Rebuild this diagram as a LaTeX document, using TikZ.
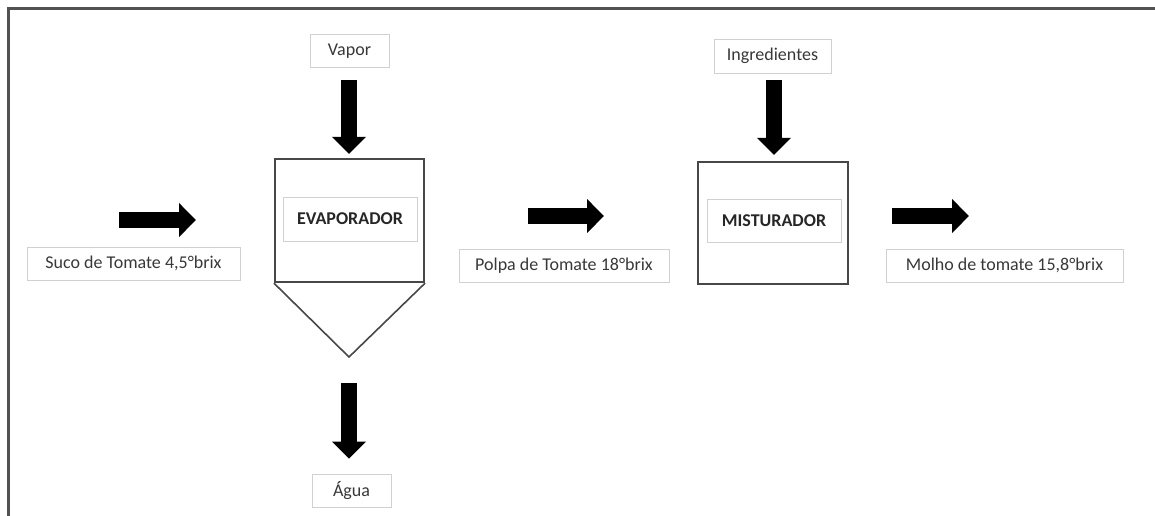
\documentclass[tikz,border=0pt]{standalone}
\usepackage{fontspec}
\setmainfont{Carlito}
\usetikzlibrary{arrows.meta,calc}
\begin{document}
\begin{tikzpicture}[x=1pt,y=-1pt,
  tag/.style={draw=black!18, line width=0.9pt, text=black!78,
    font=\fontsize{18}{21}\selectfont, inner sep=0pt, minimum height=33pt},
  boldtag/.style={tag, font=\fontsize{18}{21}\selectfont\bfseries, text=black!85},
  unit/.style={draw=black!72, line width=2.2pt, inner sep=0pt},
  flow/.style={line width=16pt, -{Triangle[length=17pt,width=33pt]}}]
\useasboundingbox (0,0) rectangle (1155,515);

% page frame (only the left and top edges fall inside the picture)
\draw[black!68, line width=3pt] (8,540) -- (8,8) -- (1180,8);

% evaporator: box with a conical bottom
\node[unit, minimum width=149pt, minimum height=123pt] (evap) at (349.5,220.5) {};
\coordinate (cone) at (349,357);
\draw[black!72, line width=1.6pt] (evap.south west) -- (cone) -- (evap.south east);
\node[boldtag, minimum width=134pt, minimum height=44pt] (evaplabel) at (350,219) {EVAPORADOR};

% mixer
\node[unit, minimum width=150pt, minimum height=122pt] (mist) at (773,223) {};
\node[boldtag, minimum width=134pt, minimum height=43pt] (mistlabel) at (774,220.5) {MISTURADOR};

% stream labels
\node[tag, minimum width=79pt] (vapor) at (349.5,51) {Vapor};
\node[tag, minimum width=79pt] (agua) at (351.5,490.5) {Água};
\node[tag, minimum width=117pt, minimum height=34pt] (ingr) at (772.5,56) {Ingredientes};
\node[tag, minimum width=213pt] (suco) at (133.5,263.5) {Suco de Tomate 4,5°brix};
\node[tag, minimum width=210pt] (polpa) at (564,265.5) {Polpa de Tomate 18°brix};
\node[tag, minimum width=237pt] (molho) at (1004.5,265.5) {Molho de tomate 15,8°brix};

% flow arrows
\coordinate (vapor-out) at ($(vapor.south)+(-0.5,12)$);
\coordinate (evap-in)   at ($(evap.north)+(-0.5,-4)$);
\draw[flow] (vapor-out) -- (evap-in);

\coordinate (agua-from) at ($(cone)+(0,26)$);
\coordinate (agua-to)   at ($(agua.north)+(-2.5,-15)$);
\draw[flow] (agua-from) -- (agua-to);

\coordinate (ingr-out) at ($(ingr.south)+(1.5,7)$);
\coordinate (mist-in)  at ($(mist.north)+(1,-6)$);
\draw[flow] (ingr-out) -- (mist-in);

\coordinate (suco-a) at (119,220);
\coordinate (suco-b) at (196,220);
\draw[flow] (suco-a) -- (suco-b);

\coordinate (polpa-a) at (528,216);
\coordinate (polpa-b) at (604,216);
\draw[flow] (polpa-a) -- (polpa-b);

\coordinate (molho-a) at (892,216);
\coordinate (molho-b) at (969,216);
\draw[flow] (molho-a) -- (molho-b);
\end{tikzpicture}
\end{document}
